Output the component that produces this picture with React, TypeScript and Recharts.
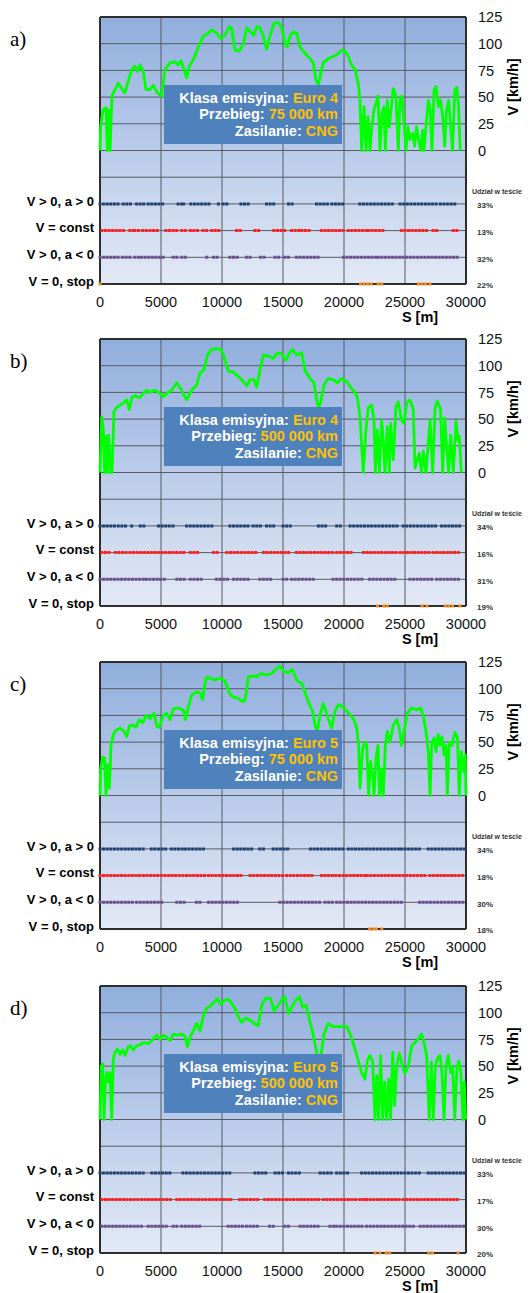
import React from "react";
import { ComposedChart, Line, XAxis, YAxis, CartesianGrid } from "recharts";

const FONT = "'Liberation Sans', Arial, sans-serif";

// axes
const DIST_TICKS = [0, 5000, 10000, 15000, 20000, 25000, 30000];
const SPEED_TICKS = [0, 25, 50, 75, 100, 125];
const GRID_LEVELS = [-125, -100, -75, -50, -25, 0, 25, 50, 75, 100, 125];
const FRAME_X = [0, 30000];
const FRAME_Y = [-125, 125];

// driving modes (rows under the speed trace)
const MODES = ["V > 0, a > 0", "V = const", "V > 0, a < 0", "V = 0, stop"];
const MODE_LEVELS = [-50, -75, -100, -125];
const MODE_COLORS = ["#1f3f6e", "#ff2020", "#6a4f8f", "#f28a24"];

// speed traces [S m, V km/h]
const SPEED_A = [
  [0, 0], [50, 22], [250, 38], [500, 40], [600, 0], [700, 38], [820, 0], [980, 51], [1230, 57], [1500, 63],
  [1780, 58], [2050, 54], [2320, 65], [2600, 76], [2870, 79], [3060, 74], [3280, 80], [3550, 74], [3770, 57],
  [4100, 57], [4370, 61], [4700, 54], [5050, 51], [5330, 76], [5740, 82], [6150, 83], [6420, 80], [6640, 84],
  [6880, 76], [7100, 68], [7320, 79], [7650, 85], [8060, 97], [8470, 107], [8880, 110], [9150, 113], [9560, 110],
  [9890, 105], [10250, 108], [10600, 116], [10790, 115], [11060, 94], [11420, 93], [11750, 100], [12020, 115],
  [12350, 111], [12620, 108], [12840, 116], [13110, 115], [13390, 107], [13660, 95], [13930, 107], [14260, 119],
  [14620, 120], [14890, 115], [15160, 100], [15350, 97], [15570, 107], [15840, 111], [16120, 110], [16390, 97],
  [16800, 91], [17210, 86], [17490, 82], [17700, 66], [17900, 61], [18090, 72], [18300, 82], [18710, 86],
  [19120, 88], [19450, 90], [19810, 94], [20080, 93], [20350, 88], [20630, 80], [20900, 76], [21170, 63],
  [21310, 47], [21450, 0], [21640, 41], [21800, 0], [21970, 32], [22130, 0], [22290, 22], [22460, 38], [22620, 44],
  [22790, 51], [22950, 0], [23110, 35], [23280, 41], [23390, 0], [23550, 47], [23710, 22], [23880, 41], [24040, 58],
  [24260, 51], [24450, 0], [24590, 47], [24750, 51], [24920, 26], [25080, 0], [25240, 22], [25410, 10], [25630, 16],
  [25790, 4], [25950, 22], [26120, 10], [26280, 0], [26450, 19], [26560, 0], [26720, 22], [26910, 47], [27050, 41],
  [27210, 0], [27380, 57], [27540, 60], [27730, 41], [27920, 47], [28090, 32], [28250, 4], [28410, 38], [28580, 47],
  [28740, 22], [28900, 0], [29080, 57], [29250, 59], [29390, 41], [29530, 0],
];

const SPEED_B = [
  [0, 0], [140, 52], [270, 40], [380, 0], [490, 34], [600, 0], [710, 35], [870, 0], [980, 0], [1150, 57],
  [1370, 61], [1640, 63], [1910, 65], [2190, 68], [2400, 59], [2600, 70], [2870, 72], [3220, 70], [3550, 74],
  [3820, 77], [4100, 75], [4510, 77], [4920, 74], [5190, 71], [5460, 74], [5870, 77], [6280, 84], [6690, 77],
  [7100, 68], [7510, 77], [7920, 82], [8200, 93], [8520, 96], [8800, 110], [9150, 115], [9560, 116], [9970, 115],
  [10250, 105], [10520, 95], [10930, 94], [11340, 90], [11750, 85], [12020, 81], [12290, 87], [12620, 87],
  [12840, 80], [13110, 96], [13390, 110], [13800, 109], [14210, 107], [14530, 112], [14890, 111], [15240, 105],
  [15520, 112], [15790, 115], [16120, 110], [16530, 112], [16800, 96], [17210, 88], [17540, 84], [17760, 68],
  [17920, 59], [18090, 66], [18360, 82], [18710, 88], [19120, 87], [19450, 84], [19810, 88], [20220, 85],
  [20540, 80], [20820, 76], [21090, 71], [21310, 52], [21580, 0], [21800, 40], [21990, 61], [22270, 63],
  [22460, 49], [22570, 0], [22730, 40], [22900, 0], [23080, 49], [23220, 30], [23360, 0], [23550, 43], [23710, 0],
  [23820, 46], [24040, 12], [24260, 62], [24450, 66], [24720, 49], [24920, 46], [25130, 65], [25410, 68],
  [25680, 59], [25820, 4], [26010, 12], [26170, 18], [26360, 0], [26500, 20], [26720, 0], [26880, 24], [27050, 49],
  [27270, 0], [27460, 60], [27650, 67], [27920, 59], [28090, 0], [28250, 51], [28410, 24], [28580, 0], [28740, 35],
  [28960, 0], [29180, 48], [29340, 30], [29450, 34], [29620, 0],
];

const SPEED_C = [
  [0, 0], [50, 25], [220, 36], [380, 35], [490, 0], [600, 29], [770, 7], [900, 47], [1090, 57], [1310, 61],
  [1640, 63], [1970, 60], [2190, 55], [2400, 65], [2680, 66], [2950, 64], [3220, 71], [3500, 68], [3770, 75],
  [4100, 72], [4430, 77], [4640, 65], [4860, 64], [5190, 75], [5460, 77], [5740, 71], [6010, 81], [6420, 82],
  [6830, 80], [7000, 71], [7240, 83], [7510, 94], [7920, 97], [8200, 96], [8410, 90], [8690, 110], [9020, 110],
  [9430, 108], [9840, 110], [10250, 107], [10600, 96], [10930, 92], [11340, 91], [11690, 88], [11880, 89],
  [12160, 111], [12570, 112], [12840, 111], [13170, 114], [13660, 113], [14070, 114], [14480, 119], [14750, 121],
  [15080, 116], [15440, 115], [15790, 118], [16120, 108], [16530, 105], [16800, 97], [17160, 85], [17430, 79],
  [17620, 66], [17810, 60], [18030, 75], [18300, 86], [18520, 79], [18710, 72], [18990, 63], [19260, 79],
  [19530, 85], [19940, 83], [20220, 79], [20540, 75], [20820, 71], [21040, 63], [21200, 47], [21310, 7],
  [21530, 44], [21720, 50], [21860, 47], [22020, 0], [22180, 32], [22350, 19], [22460, 0], [22620, 35],
  [22790, 47], [22900, 0], [23060, 25], [23220, 0], [23390, 47], [23550, 60], [23770, 50], [24040, 66],
  [24320, 71], [24530, 63], [24720, 47], [24920, 60], [25190, 77], [25550, 82], [25950, 80], [26280, 82],
  [26500, 75], [26720, 60], [26910, 41], [27050, 0], [27180, 47], [27380, 54], [27540, 41], [27710, 57],
  [27870, 47], [28030, 55], [28200, 38], [28360, 47], [28470, 0], [28630, 50], [28850, 47], [29080, 59],
  [29300, 54], [29450, 0], [29620, 41], [29840, 22], [29940, 38], [30000, 0],
];

const SPEED_D = [
  [0, 0], [110, 50], [220, 52], [330, 0], [440, 35], [550, 44], [680, 35], [820, 44], [960, 0], [1090, 57],
  [1230, 63], [1420, 66], [1640, 61], [1860, 65], [2050, 60], [2320, 68], [2510, 69], [2730, 65], [3000, 69],
  [3280, 70], [3610, 72], [3960, 71], [4320, 75], [4640, 79], [4920, 75], [5190, 79], [5460, 77], [5740, 74],
  [6010, 80], [6340, 79], [6690, 80], [6970, 78], [7160, 68], [7380, 77], [7650, 83], [7920, 90], [8200, 83],
  [8470, 97], [8740, 104], [9020, 106], [9340, 110], [9620, 113], [9890, 108], [10160, 111], [10440, 113],
  [10710, 110], [11060, 104], [11340, 96], [11610, 91], [11960, 95], [12290, 93], [12620, 90], [12980, 88],
  [13250, 107], [13610, 114], [13990, 113], [14260, 102], [14620, 107], [14890, 112], [15160, 115], [15440, 99],
  [15710, 105], [16070, 112], [16340, 115], [16610, 105], [16890, 107], [17160, 94], [17430, 82], [17700, 66],
  [17900, 54], [18090, 58], [18360, 80], [18710, 90], [19070, 87], [19400, 87], [19810, 87], [20220, 87],
  [20540, 79], [20900, 66], [21170, 55], [21450, 44], [21720, 38], [21910, 55], [22130, 60], [22350, 54],
  [22540, 0], [22680, 41], [22840, 0], [23000, 60], [23170, 0], [23330, 35], [23500, 0], [23660, 38], [23820, 0],
  [23990, 63], [24150, 13], [24320, 50], [24530, 62], [24720, 54], [24990, 43], [25270, 50], [25550, 69],
  [25900, 73], [26170, 77], [26360, 80], [26560, 72], [26770, 60], [26990, 0], [27160, 54], [27320, 0],
  [27490, 50], [27650, 57], [27870, 60], [28030, 44], [28200, 0], [28360, 50], [28550, 60], [28740, 44],
  [28900, 50], [29080, 0], [29250, 47], [29410, 55], [29580, 44], [29750, 0], [29860, 35], [29970, 0],
];

// mode segments [from m, to m]
const ACC_A = [[0, 1650], [1900, 2650], [3000, 3700], [3950, 5350], [6400, 6700], [6850, 7100], [7450, 9000], [9700, 9850], [10100, 10550], [11550, 12150], [12350, 12350], [12700, 12700], [13650, 14400], [15450, 16000], [17250, 17250], [17750, 18800], [19000, 19950], [20450, 20450], [20750, 20750], [21300, 24200], [24600, 27600], [27900, 29250]];
const CONST_A = [[150, 2200], [2450, 2750], [2850, 3300], [3500, 3800], [4100, 4900], [5400, 6400], [6700, 7100], [7400, 8200], [8450, 8900], [9150, 9950], [10400, 10400], [10650, 10650], [11200, 11750], [12700, 13250], [13650, 13650], [14250, 15350], [15700, 16400], [16550, 17350], [18150, 19950], [20350, 21850], [22000, 23200], [23750, 23750], [24700, 27050], [27300, 27850], [28250, 28250], [28950, 29250]];
const DEC_A = [[0, 1650], [1850, 2200], [2450, 2600], [2850, 3300], [3400, 5200], [6000, 6400], [6700, 7100], [8750, 8900], [9300, 9700], [10650, 11250], [12000, 12550], [13150, 13650], [14350, 14750], [15150, 15550], [16100, 17900], [18850, 18850], [19200, 19200], [19950, 22700], [22800, 24600], [24850, 29500]];
const STOP_A = [[0, 150], [650, 650], [21350, 22400], [22800, 23350], [25000, 25000], [26100, 26750], [27050, 27300], [28800, 28800], [29350, 29350]];

const ACC_B = [[0, 1250], [1500, 2300], [2600, 2850], [3300, 3800], [4250, 4250], [4800, 6150], [7100, 9300], [9700, 9700], [10650, 12300], [12550, 13400], [13650, 14500], [15000, 15850], [17350, 17350], [17900, 18700], [19400, 19800], [20500, 24600], [24850, 27600], [28000, 29650]];
const CONST_B = [[150, 800], [1250, 2200], [2450, 7100], [7400, 8200], [9300, 9700], [10400, 12850], [13400, 15550], [16100, 19100], [19400, 20750], [21600, 24300], [24600, 27050], [27300, 29650]];
const DEC_B = [[0, 3550], [3800, 5450], [6300, 7100], [7400, 8300], [8850, 8850], [9550, 10650], [10950, 12150], [12700, 12700], [13100, 14200], [15000, 15300], [15700, 17750], [19100, 21600], [22100, 24300], [25400, 27300], [27600, 29650]];
const STOP_B = [[0, 0], [250, 250], [750, 750], [21600, 21600], [22500, 22500], [22750, 22950], [23250, 23700], [26100, 26100], [26400, 26550], [26800, 27000], [28050, 28050], [28300, 28600], [28900, 29100], [29500, 29650]];

const ACC_C = [[0, 3800], [4200, 5450], [5850, 6850], [7000, 8700], [9450, 9450], [10950, 12550], [13100, 13650], [14200, 15600], [15850, 15850], [17250, 19950], [20350, 24600], [24700, 26200], [26500, 26500], [26900, 30000]];
const CONST_C = [[0, 3300], [3550, 8700], [8900, 11750], [12300, 15050], [15300, 17500], [17750, 17750], [18150, 21850], [21900, 26800], [27050, 30000]];
const DEC_C = [[0, 2750], [3000, 5200], [5450, 5450], [6300, 7100], [7900, 8450], [8900, 11500], [12000, 12000], [12700, 12700], [13400, 13400], [14750, 18050], [18450, 19150], [19400, 25000], [25700, 25700], [26200, 30000]];
const STOP_C = [[0, 0], [550, 550], [22100, 22400], [22650, 22800], [23100, 23350], [27050, 27050], [28400, 28400], [29450, 29450]];

const ACC_D = [[0, 3800], [4250, 6000], [6300, 6300], [6800, 10650], [11200, 11200], [11750, 11750], [12700, 13650], [14350, 15000], [15450, 16400], [16800, 16800], [18050, 19000], [19400, 20350], [20900, 20900], [21450, 26250], [26900, 29900]];
const CONST_D = [[150, 6000], [6300, 10950], [11450, 13100], [13500, 17950], [18300, 21050], [21300, 21600], [21850, 24600], [24850, 28150], [28400, 29400]];
const DEC_D = [[150, 3550], [3950, 5450], [6000, 6300], [6700, 8450], [9700, 9700], [10500, 11750], [12000, 12950], [13900, 14350], [15150, 15450], [16400, 18150], [18850, 19150], [19400, 21600], [21850, 25700], [26250, 29900]];
const STOP_D = [[0, 0], [400, 400], [950, 950], [22550, 22700], [22950, 23200], [23450, 23900], [26950, 27050], [27250, 27350], [28150, 28150], [29000, 29000], [29350, 29500], [29800, 29800]];

const SHARE_A = ["33%", "13%", "32%", "22%"];
const SHARE_B = ["34%", "16%", "31%", "19%"];
const SHARE_C = ["34%", "18%", "30%", "18%"];
const SHARE_D = ["33%", "17%", "30%", "20%"];

const PANELS = [
  { tag: "a)", klasa: "Euro 4", przebieg: "75 000 km", speed: SPEED_A, modes: [ACC_A, CONST_A, DEC_A, STOP_A], shares: SHARE_A },
  { tag: "b)", klasa: "Euro 4", przebieg: "500 000 km", speed: SPEED_B, modes: [ACC_B, CONST_B, DEC_B, STOP_B], shares: SHARE_B },
  { tag: "c)", klasa: "Euro 5", przebieg: "75 000 km", speed: SPEED_C, modes: [ACC_C, CONST_C, DEC_C, STOP_C], shares: SHARE_C },
  { tag: "d)", klasa: "Euro 5", przebieg: "500 000 km", speed: SPEED_D, modes: [ACC_D, CONST_D, DEC_D, STOP_D], shares: SHARE_D },
];
const PANEL_TOPS = [0, 322, 645, 969];

const W = 531;
const H = 323;

const ModeTick = ({ x, y, payload }: any) => (
  <text x={x} y={y - 3} dy="0.355em" textAnchor="end" fontFamily={FONT} fontSize={13} fontWeight="bold" fill="#000">
    {MODES[MODE_LEVELS.indexOf(payload.value)]}
  </text>
);

const makeRightTick = (shares: string[]) => ({ x, y, payload }: any) => {
  const v = payload.value;
  if (v >= 0) {
    return (
      <text x={x} y={y} dy="0.355em" textAnchor="start" fontFamily={FONT} fontSize={14.5} fill="#111">
        {v}
      </text>
    );
  }
  return (
    <text x={x - 1} y={y + 1.5} dy="0.355em" textAnchor="start" fontFamily={FONT} fontSize={8} fontWeight="bold" fill="#333">
      {shares[MODE_LEVELS.indexOf(v)]}
    </text>
  );
};

function Panel({ p, idx }: { p: (typeof PANELS)[number]; idx: number }) {
  const speedData = p.speed.map(([s, v]) => ({ s, v }));
  const rows = p.modes.map((segs, i) =>
    segs.flatMap(([a, b]) => [
      { s: a, y: MODE_LEVELS[i] },
      { s: b, y: MODE_LEVELS[i] },
      { s: b, y: null },
    ])
  );
  const gid = `bg${idx}`;

  return (
    <div style={{ position: "absolute", left: 0, top: PANEL_TOPS[idx], width: W, height: H }}>
      <ComposedChart width={W} height={H} margin={{ top: 17, right: 0, bottom: 0, left: 0 }}>
        <defs>
          <linearGradient id={gid} x1="0" y1="0" x2="0" y2="1">
            <stop offset="0%" stopColor="#90aedd" />
            <stop offset="100%" stopColor="#e3e9f6" />
          </linearGradient>
        </defs>
        <CartesianGrid
          yAxisId="right"
          fill={`url(#${gid})`}
          fillOpacity={1}
          stroke="#555a63"
          strokeWidth={1}
          horizontalValues={GRID_LEVELS}
          verticalValues={DIST_TICKS}
        />
        <CartesianGrid
          yAxisId="right"
          fill="none"
          stroke="#2e2e2e"
          strokeWidth={2}
          horizontalValues={FRAME_Y}
          verticalValues={FRAME_X}
        />
        <XAxis
          dataKey="s"
          type="number"
          domain={[0, 30000]}
          ticks={DIST_TICKS}
          interval={0}
          height={39}
          tickLine={false}
          tickMargin={7}
          axisLine={false}
          tick={{ fontSize: 14.5, fill: "#111", fontFamily: FONT }}
        />
        <YAxis
          yAxisId="left"
          type="number"
          domain={[-125, 125]}
          allowDataOverflow
          ticks={MODE_LEVELS}
          interval={0}
          width={100}
          tickLine={false}
          tickMargin={0}
          axisLine={false}
          tick={ModeTick}
        />
        <YAxis
          yAxisId="right"
          orientation="right"
          type="number"
          domain={[-125, 125]}
          ticks={[...MODE_LEVELS, ...SPEED_TICKS]}
          interval={0}
          width={65}
          tickLine={false}
          tickMargin={6}
          axisLine={false}
          tick={makeRightTick(p.shares)}
        />
        {rows.map((data, i) => (
          <Line
            key={MODES[i]}
            yAxisId="right"
            data={data}
            dataKey="y"
            stroke={MODE_COLORS[i]}
            strokeWidth={3}
            strokeLinecap="square"
            strokeDasharray="0 3.6"
            dot={false}
            activeDot={false}
            connectNulls={false}
            isAnimationActive={false}
          />
        ))}
        <Line
          yAxisId="right"
          data={speedData}
          dataKey="v"
          stroke="#00ff00"
          strokeWidth={2.8}
          strokeLinejoin="round"
          dot={false}
          activeDot={false}
          isAnimationActive={false}
        />
      </ComposedChart>

      <svg width={W} height={H} style={{ position: "absolute", left: 0, top: 0, overflow: "visible", pointerEvents: "none" }}>
        <text x={10} y={46} fontFamily="'Liberation Serif', 'Times New Roman', serif" fontSize={21} fill="#000">
          {p.tag}
        </text>
        <rect x={164} y={85} width={178} height={59} fill="#4f81bd" />
        <g fontFamily={FONT} fontSize={14.5} fontWeight="bold" textAnchor="end" fill="#fff">
          <text x={338} y={102.5}>
            Klasa emisyjna: <tspan fill="#ffc000">{p.klasa}</tspan>
          </text>
          <text x={338} y={119.2}>
            Przebieg: <tspan fill="#ffc000">{p.przebieg}</tspan>
          </text>
          <text x={338} y={135.9}>
            Zasilanie: <tspan fill="#ffc000">CNG</tspan>
          </text>
        </g>
        <text
          transform="translate(513,87) rotate(-90)"
          textAnchor="middle"
          dy="0.355em"
          fontFamily={FONT}
          fontSize={14.5}
          fontWeight="bold"
          fill="#000"
        >
          V [km/h]
        </text>
        <text x={420} y={322} textAnchor="middle" fontFamily={FONT} fontSize={14.5} fontWeight="bold" fill="#000">
          S [m]
        </text>
        <text x={472} y={194} fontFamily={FONT} fontSize={7} fontWeight="bold" fill="#333">
          Udział w teście
        </text>
      </svg>
    </div>
  );
}

export default function App() {
  return (
    <div style={{ position: "absolute", left: 0, top: 0, width: W, height: 1293, background: "#fff" }}>
      {PANELS.map((p, i) => (
        <Panel key={p.tag} p={p} idx={i} />
      ))}
    </div>
  );
}
